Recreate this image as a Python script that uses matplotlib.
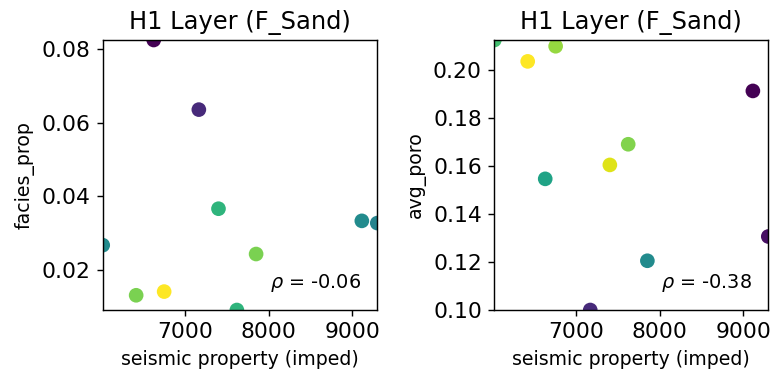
import matplotlib
matplotlib.use('Agg')
import matplotlib.pyplot as plt

# seismic property (acoustic impedance) per well
imped = [6015, 6415, 6625, 6750, 7165, 7400, 7620, 7850, 9115, 9300]

facies_prop = [0.0267, 0.0131, 0.0824, 0.0141, 0.0635, 0.0366, 0.0091, 0.0243, 0.0333, 0.0327]
avg_poro = [0.2124, 0.2035, 0.1546, 0.2098, 0.1000, 0.1604, 0.1690, 0.1205, 0.1912, 0.1306]

# colour values (viridis fraction)
col_facies = [0.48, 0.80, 0.00, 1.00, 0.12, 0.65, 0.65, 0.80, 0.48, 0.45]
col_poro = [0.70, 1.00, 0.58, 0.84, 0.12, 0.95, 0.81, 0.48, 0.00, 0.04]

rho_facies = -0.06
rho_poro = -0.38

dpi = 128
fig = plt.figure(figsize=(770 / dpi, 377 / dpi), dpi=dpi)
ax1 = fig.add_axes([0.1334, 0.1777, 0.3566, 0.7162])
ax2 = fig.add_axes([0.642, 0.1777, 0.3558, 0.7162])

panels = [
    (ax1, facies_prop, col_facies, 'facies_prop', rho_facies, [0.02, 0.04, 0.06, 0.08]),
    (ax2, avg_poro, col_poro, 'avg_poro', rho_poro, [0.10, 0.12, 0.14, 0.16, 0.18, 0.20]),
]

for ax, y, c, ylab, rho, yt in panels:
    ax.scatter(imped, y, c=c, cmap='viridis', vmin=0, vmax=1, s=68, linewidths=0)
    ax.set_xlim(min(imped), max(imped))
    ax.set_ylim(min(y), max(y))
    ax.set_xticks([7000, 8000, 9000])
    ax.set_yticks(yt)
    ax.tick_params(labelsize=12.3)
    ax.set_title('H1 Layer (F_Sand)', fontsize=13.6)
    ax.set_xlabel('seismic property (imped)', fontsize=10.6)
    ax.set_ylabel(ylab, fontsize=10.6)
    ax.text(0.94, 0.1, r'$\rho$ = %.2f' % rho, ha='right', va='center',
            fontsize=10.8, transform=ax.transAxes)

plt.savefig('out.png', dpi=dpi)
